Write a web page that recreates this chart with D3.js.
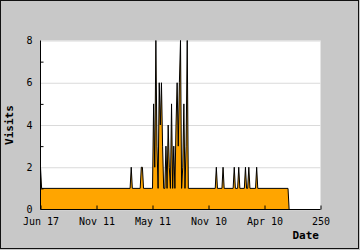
<!DOCTYPE html>
<html>
<head>
<meta charset="utf-8">
<script src="https://cdn.jsdelivr.net/npm/d3@7"></script>
<style>
  body { margin: 0; background: #c8c8c8; }
  svg { display: block; }
</style>
</head>
<body>
<div id="content"></div>
<script>
// data: day index and visits on that day
var days   = [0, 1, 80, 81, 82, 89, 90, 91, 92,
              99, 100, 101, 102, 103, 104, 105, 106, 107, 108, 109, 110, 111, 112, 113, 114, 115,
              116, 117, 118, 119, 120, 121, 122, 123, 124, 125, 126, 127, 128, 129, 130, 131, 132,
              156, 157, 158, 162, 163, 164, 172, 173, 174, 176, 177, 178, 182, 183, 184,
              185, 186, 187, 192, 193, 194, 221, 222];
var visits = [2, 1, 1, 2, 1, 1, 2, 2, 1,
              1, 1, 5, 2, 8, 3, 1, 6, 4, 6, 3, 1, 1, 3, 1, 4, 2,
              1, 5, 1, 3, 1, 4, 6, 3, 6, 8, 1, 2, 5, 1, 3, 8, 1,
              1, 2, 1, 1, 2, 1, 1, 2, 1, 1, 2, 1, 1, 2, 1,
              1, 2, 1, 1, 2, 1, 1, 0];
var xTicks = [0, 50, 100, 150, 200, 250];
var xTickLabels = ["Jun 17", "Nov 11", "May 11", "Nov 10", "Apr 10", "250"];
var yTicks = [0, 2, 4, 6, 8];
var yMinor = [1, 3, 5, 7];

var W = 360, H = 250;
var svg = d3.select("#content").append("svg")
    .attr("width", W)
    .attr("height", H);

//outer frame
svg.append("rect")
    .attr("x", 0.5).attr("y", 0.5)
    .attr("width", 358).attr("height", 248)
    .attr("fill", "#c8c8c8")
    .attr("stroke", "#111");

var x = d3.scaleLinear().domain([0, 250]).range([40.5, 320.5]);
var y = d3.scaleLinear().domain([0, 8]).range([209.5, 40.5]);

//plot background
svg.append("rect")
    .attr("x", x(0)).attr("y", y(8))
    .attr("width", x(250) - x(0)).attr("height", y(0) - y(8))
    .attr("fill", "#fff");

//grid lines
svg.append("g")
    .attr("transform", "translate(" + x(0) + ",0)")
    .call(d3.axisLeft(y).tickValues(yTicks).tickSize(-(x(250) - x(0))).tickFormat(""))
    .call(function(g) {
      g.select(".domain").remove();
      g.selectAll("line").attr("stroke", "#dadada");
    });

var pts = days.map(function(d, i) { return [d, visits[i]]; });

svg.append("path")
    .datum(pts)
    .attr("fill", "#ffa500")
    .attr("d", d3.area().x(function(d) { return x(d[0]); }).y0(y(0)).y1(function(d) { return y(d[1]); }));

svg.append("path")
    .datum(pts)
    .attr("fill", "none")
    .attr("stroke", "#000")
    .attr("stroke-width", 1)
    .attr("d", d3.line().x(function(d) { return x(d[0]); }).y(function(d) { return y(d[1]); }));

//y axis
svg.append("g")
    .attr("transform", "translate(" + x(0) + ",0)")
    .call(d3.axisLeft(y).tickValues(yTicks).tickSize(0).tickPadding(8))
    .call(function(g) {
      g.select(".domain").attr("stroke", "#000").attr("d", "M0," + y(0) + "V" + y(8));
      g.selectAll("text").attr("font-family", "DejaVu Sans Mono").attr("font-size", 10).attr("fill", "#000");
    });

svg.append("g")
    .attr("transform", "translate(" + x(0) + ",0)")
    .call(d3.axisLeft(y).tickValues(yMinor).tickSize(-3).tickFormat(""))
    .call(function(g) {
      g.select(".domain").remove();
      g.selectAll("line").attr("stroke", "#000");
    });

//x axis
svg.append("g")
    .attr("transform", "translate(0," + y(0) + ")")
    .call(d3.axisBottom(x).tickValues(xTicks).tickSize(-4).tickPadding(8)
      .tickFormat(function(d, i) { return xTickLabels[i]; }))
    .call(function(g) {
      g.select(".domain").attr("stroke", "#000").attr("d", "M" + x(0) + ",0H" + x(250));
      g.selectAll("line").attr("stroke", "#000");
      g.selectAll("text").attr("font-family", "DejaVu Sans Mono").attr("font-size", 10).attr("fill", "#000");
    });

//axis titles
svg.append("text")
    .attr("x", 319).attr("y", 239)
    .attr("text-anchor", "end")
    .attr("font-family", "DejaVu Sans Mono").attr("font-size", 11).attr("font-weight", "bold")
    .text("Date");

svg.append("text")
    .attr("transform", "translate(13," + ((y(0) + y(8)) / 2) + ") rotate(-90)")
    .attr("text-anchor", "middle")
    .attr("font-family", "DejaVu Sans Mono").attr("font-size", 11).attr("font-weight", "bold")
    .text("Visits");
</script>
</body>
</html>
